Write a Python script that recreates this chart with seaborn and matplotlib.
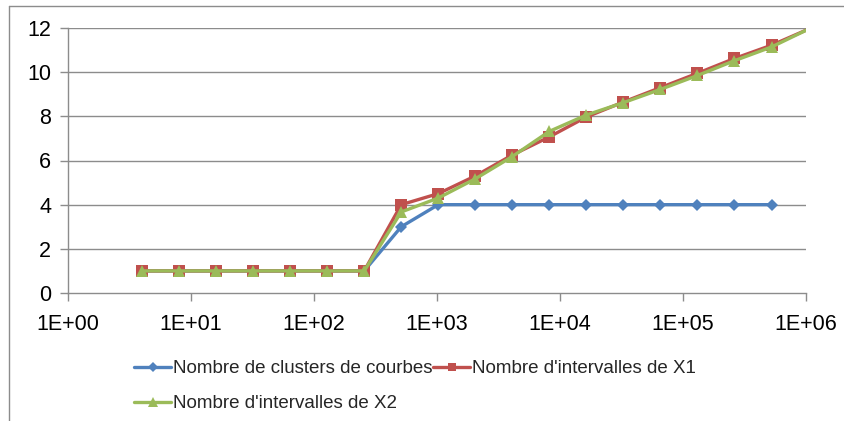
import numpy as np
import pandas as pd
import matplotlib
matplotlib.use("Agg")
import matplotlib.pyplot as plt
import seaborn as sns
from matplotlib.ticker import FixedLocator, NullLocator
from matplotlib.lines import Line2D

sns.set_theme(style="white")
plt.rcParams['font.family'] = ['Liberation Sans', 'DejaVu Sans']

# ---- data ----
x_all = [4, 8, 16, 32, 64, 128, 256, 512, 1024, 2048, 4096, 8192, 16384,
         32768, 65536, 131072, 262144, 524288, 1048576]
clusters = [1, 1, 1, 1, 1, 1, 1, 3.0, 4, 4, 4, 4, 4, 4, 4, 4, 4, 4]
inter_x1 = [1, 1, 1, 1, 1, 1, 1, 4.0, 4.5, 5.3, 6.25, 7.07, 7.97, 8.65, 9.3,
            9.95, 10.62, 11.22, 11.95]
inter_x2 = [1, 1, 1, 1, 1, 1, 1, 3.67, 4.3, 5.17, 6.18, 7.32, 8.06, 8.62, 9.22,
            9.85, 10.52, 11.14, 11.95]
labels = ["Nombre de clusters de courbes", "Nombre d'intervalles de X1",
          "Nombre d'intervalles de X2"]
colors = ["#4F81BD", "#C0504D", "#9BBB59"]
y_ticks = [0, 2, 4, 6, 8, 10, 12]
x_ticks = [1, 10, 100, 1000, 10000, 100000, 1000000]
x_tick_labels = ["1E+00", "1E+01", "1E+02", "1E+03", "1E+04", "1E+05", "1E+06"]

fig = plt.figure(figsize=(8.45, 4.21), dpi=100)
ax = fig.add_axes([68 / 845, 1 - 293 / 421, (806 - 68) / 845, (293 - 28) / 421])

grid_c = "#8C8C8C"
for yt in y_ticks[1:]:
    ax.axhline(yt, color=grid_c, lw=1.0, zorder=0.5)

series = [
    (x_all[:len(clusters)], clusters, labels[0], colors[0], "D", 6.5),
    (x_all, inter_x1, labels[1], colors[1], "s", 8),
    (x_all, inter_x2, labels[2], colors[2], "^", 9),
]
for i, (xs, ys, lab, col, mk, ms) in enumerate(series):
    df = pd.DataFrame({"x": xs, "y": ys})
    n = len(xs)
    every = list(range(n if lab == labels[0] else n - 1))
    sns.lineplot(data=df, x="x", y="y", ax=ax, color=col, lw=2.4,
                 marker=mk, markersize=ms, markeredgewidth=0,
                 markevery=every, zorder=3 + i, legend=False)

ax.set_xscale("log")
ax.set_xlim(1, 1e6)
ax.set_ylim(0, 12)
ax.xaxis.set_major_locator(FixedLocator(x_ticks))
ax.xaxis.set_minor_locator(NullLocator())
ax.set_xticks(x_ticks)
ax.set_xticklabels(x_tick_labels)
ax.set_yticks(y_ticks)
ax.set_xlabel("")
ax.set_ylabel("")

for s in ["top", "right"]:
    ax.spines[s].set_visible(False)
for s in ["left", "bottom"]:
    ax.spines[s].set_visible(True)
    ax.spines[s].set_color(grid_c)
    ax.spines[s].set_linewidth(1.0)

ax.tick_params(axis="both", which="major", direction="out", length=6,
               width=1.0, color=grid_c, labelsize=15.5, labelcolor="black",
               bottom=True, left=True)
ax.tick_params(axis="y", pad=6)
ax.tick_params(axis="x", pad=9)

handles = [Line2D([], [], color=colors[0], lw=2.4, marker="D", markersize=5, markeredgewidth=0),
           Line2D([], [], color=colors[2], lw=2.4, marker="^", markersize=7, markeredgewidth=0),
           Line2D([], [], color=colors[1], lw=2.4, marker="s", markersize=6, markeredgewidth=0)]
leg = fig.legend(handles, [labels[0], labels[2], labels[1]], ncol=2,
                 loc="upper left", bbox_to_anchor=(134 / 845, 1 - 360 / 421),
                 frameon=False, fontsize=13.5, handlelength=2.0, handletextpad=0.1,
                 columnspacing=0.0, labelspacing=0.95, borderpad=0, borderaxespad=0)

# outer frame lines (top and left visible in reference)
fig.add_artist(Line2D([9 / 845, 9 / 845], [0, 1 - 6 / 421], color="#8C8C8C", lw=1.0,
                      transform=fig.transFigure))
fig.add_artist(Line2D([9 / 845, 1], [1 - 6 / 421, 1 - 6 / 421], color="#8C8C8C", lw=1.0,
                      transform=fig.transFigure))

fig.savefig("out.png", dpi=100)
